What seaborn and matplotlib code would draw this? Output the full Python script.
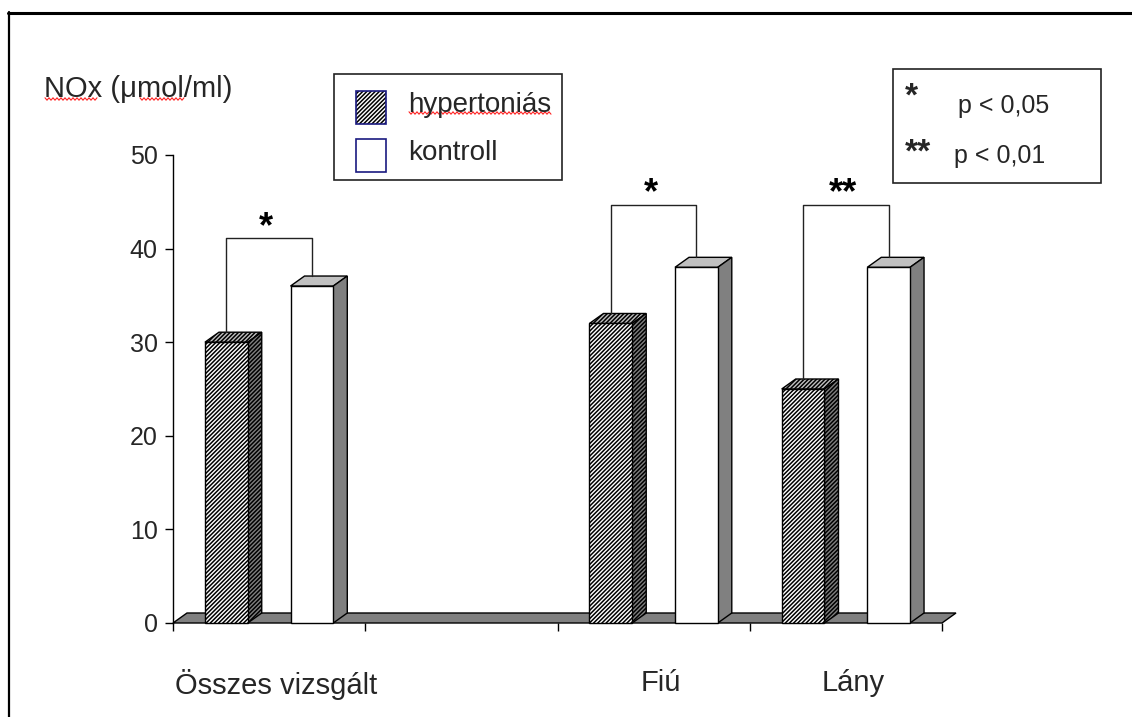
import numpy as np
import pandas as pd
import matplotlib
matplotlib.use("Agg")
import matplotlib.pyplot as plt
from matplotlib.patches import Polygon, Rectangle
from matplotlib.lines import Line2D
import seaborn as sns

# ---- data -------------------------------------------------------------
categories = ["Összes vizsgált", " ", "Fiú", "Lány"]
groups = ["hypertoniás", "kontroll"]
hypertonias = [30, None, 32, 25]
kontroll = [36, None, 38, 38]
yticks = [0, 10, 20, 30, 40, 50]
ylabel = "NOx (μmol/ml)"

# significance brackets: category index, bracket height, marker
sig_cats = [0, 2, 3]
sig_heights = [41.1, 44.7, 44.7]
sig_marks = ["*", "*", "**"]
p_marks = ["*", "**"]
p_texts = ["p < 0,05", "p < 0,01"]

rows = []
for cat, h, k in zip(categories, hypertonias, kontroll):
    if h is not None:
        rows.append((cat, groups[0], h))
    if k is not None:
        rows.append((cat, groups[1], k))
df = pd.DataFrame(rows, columns=["csoport", "minta", "NOx"])

# ---- figure -----------------------------------------------------------
sns.set_style("white")
plt.rcParams["font.family"] = ["Liberation Sans", "DejaVu Sans"]
plt.rcParams["hatch.linewidth"] = 1.1

HATCH = "////////"

W, H = 1132, 717
fig = plt.figure(figsize=(W / 100, H / 100), dpi=100)
fig.patch.set_facecolor("white")


def fx(x):
    return x / W


def fy(y):
    return 1 - y / H


ax = fig.add_axes([fx(173), fy(623), 769 / W, 468 / H])

sns.barplot(data=df, x="csoport", y="NOx", hue="minta", order=categories,
            hue_order=groups, palette=["white", "white"], saturation=1,
            width=0.89, gap=0.5, edgecolor="black", linewidth=1.0,
            errorbar=None, legend=False, ax=ax)

ax.set_xlim(-0.5, 3.5)
ax.set_ylim(0, 50)

# 3D depth offsets in data units
dx = 14 / (769 / 4)
dy = 10 / (468 / 50)

GRAY_TOP = "#c0c0c0"
GRAY_SIDE = "#808080"

# floor slab
floor = Polygon([(-0.5, 0), (3.5, 0), (3.5 + dx, dy), (-0.5 + dx, dy)],
                closed=True, facecolor=GRAY_SIDE, edgecolor="black",
                linewidth=1.0, zorder=1, clip_on=False)
ax.add_patch(floor)

bar_centers = []
bar_tops = []
for gi, cont in enumerate(ax.containers):
    centers = {}
    tops = {}
    for bar in cont:
        h = bar.get_height()
        if not np.isfinite(h) or h == 0:
            continue
        x0 = bar.get_x()
        x1 = x0 + bar.get_width()
        hatch = HATCH if gi == 0 else None
        bar.set_zorder(4)
        bar.set_clip_on(False)
        if hatch:
            bar.set_hatch(hatch)
        top = Polygon([(x0, h), (x0 + dx, h + dy), (x1 + dx, h + dy), (x1, h)],
                      closed=True, facecolor=GRAY_TOP, edgecolor="black",
                      linewidth=1.0, hatch=hatch, zorder=3, clip_on=False)
        side = Polygon([(x1, 0), (x1 + dx, dy), (x1 + dx, h + dy), (x1, h)],
                       closed=True, facecolor=GRAY_SIDE, edgecolor="black",
                       linewidth=1.0, hatch=hatch, zorder=3, clip_on=False)
        ax.add_patch(top)
        ax.add_patch(side)
        cx = round(bar.get_x() + bar.get_width() / 2)
        centers[cx] = x0 + bar.get_width() / 2
        tops[cx] = h
    bar_centers.append(centers)
    bar_tops.append(tops)

# significance brackets
for ci, yb, mark in zip(sig_cats, sig_heights, sig_marks):
    xl = bar_centers[0][ci]
    xr = bar_centers[1][ci]
    hl = bar_tops[0][ci] + dy
    hr = bar_tops[1][ci] + dy
    ax.add_line(Line2D([xl, xl, xr, xr], [hl, yb, yb, hr], color="#222222",
                       linewidth=1.0, zorder=5, clip_on=False))
    ax.text((xl + xr) / 2 - 0.015, yb - 0.75, mark, ha="center", va="bottom",
            fontsize=26, fontweight="bold", color="black", clip_on=False)

# axes styling
for s in ["top", "right", "bottom"]:
    ax.spines[s].set_visible(False)
ax.spines["left"].set_color("black")
ax.spines["left"].set_linewidth(1.0)
ax.spines["left"].set_bounds(0, 50)
ax.set_yticks(yticks)
ax.set_yticklabels([str(v) for v in yticks], fontsize=18)
ax.tick_params(axis="y", length=6, width=1.0, color="black", pad=5,
               left=True)
ax.set_xticks([i + dx / 2 for i in range(len(categories))])
ax.set_xticklabels(categories, fontsize=21)
ax.set_xticks([-0.5, 0.5, 1.5, 2.5, 3.5], minor=True)
ax.tick_params(axis="x", which="major", length=0, pad=33)
ax.tick_params(axis="x", which="minor", length=6, width=1.0, color="black",
               bottom=True)
ax.set_xlabel("")
ax.set_ylabel("")
ax.patch.set_alpha(0)

# y-axis unit label
fig.text(fx(44), fy(89), ylabel, fontsize=21, ha="left", va="center")

# group legend box
LX0, LX1, LY0, LY1 = 334, 562, 74, 180
fig.add_artist(Rectangle((fx(LX0), fy(LY1)), (LX1 - LX0) / W, (LY1 - LY0) / H,
                         transform=fig.transFigure, facecolor="white",
                         edgecolor="#222222", linewidth=1.2))
for i, (lab, hatch) in enumerate(zip(groups, [HATCH, None])):
    top = 91 + i * 48
    fig.add_artist(Rectangle((fx(356), fy(top + 33)), 30 / W, 33 / H,
                             transform=fig.transFigure, facecolor="white",
                             edgecolor="black", linewidth=0.0, hatch=hatch))
    fig.add_artist(Rectangle((fx(356), fy(top + 33)), 30 / W, 33 / H,
                             transform=fig.transFigure, facecolor="none",
                             edgecolor="#1a1a80", linewidth=1.2))
    fig.text(fx(408), fy(top + 14), lab, fontsize=20, ha="left", va="center")

# significance legend box
fig.add_artist(Rectangle((fx(893), fy(183)), (1101 - 893) / W, (183 - 69) / H,
                         transform=fig.transFigure, facecolor="white",
                         edgecolor="#222222", linewidth=1.2))
for i, (m, t) in enumerate(zip(p_marks, p_texts)):
    fig.text(fx(905), fy(106 + i * 56), m, fontsize=24, fontweight="bold",
             ha="left", va="baseline")
    fig.text(fx(958 - 4 * i), fy(106 + i * 50), t, fontsize=18, ha="left",
             va="center")


# red wavy proofing underlines
def wavy(x0, x1, y):
    xs = np.arange(x0, x1 + 0.1, 2.0)
    ys = y + np.where(np.arange(len(xs)) % 2 == 0, -1.2, 1.2)
    fig.add_artist(Line2D(fx(xs), fy(ys), color="#ff2020", linewidth=0.8,
                          transform=fig.transFigure))


wavy(45, 98, 99)
wavy(140, 184, 99)
wavy(409, 552, 113)

# page border
fig.add_artist(Line2D([fx(8), fx(W)], [fy(12.5), fy(12.5)], color="black",
                      linewidth=2.2, transform=fig.transFigure))
fig.add_artist(Line2D([fx(8.5), fx(8.5)], [fy(12), fy(H)], color="black",
                      linewidth=1.6, transform=fig.transFigure))

fig.savefig("out.png", dpi=100, facecolor="white")
